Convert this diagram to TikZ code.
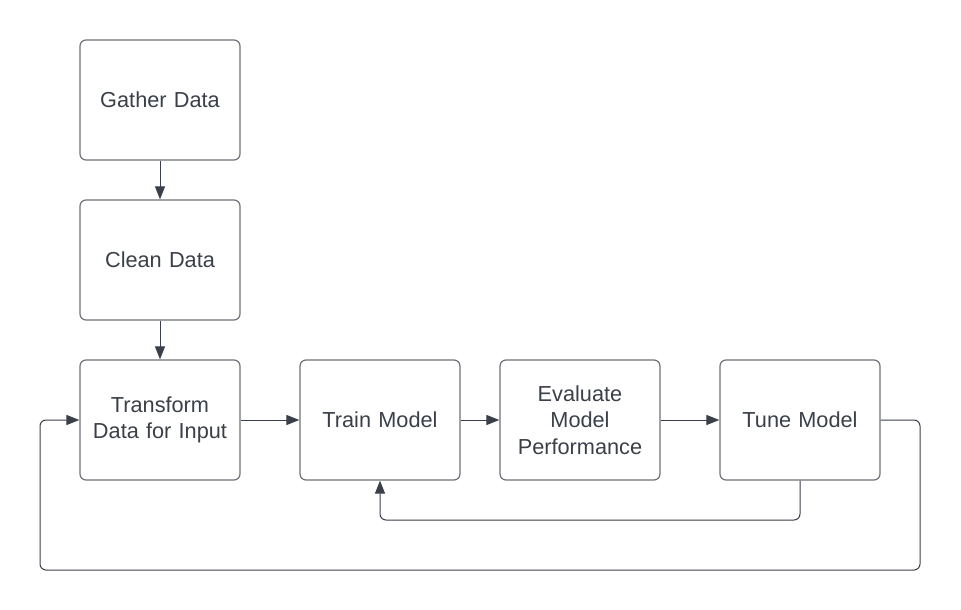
\documentclass[tikz,border=0pt]{standalone}
\usepackage{fontspec}
\setmainfont{Liberation Sans}
\usetikzlibrary{arrows.meta}
\definecolor{boxgray}{HTML}{6E7178}
\definecolor{inkdark}{HTML}{3A3F48}
\begin{document}
\begin{tikzpicture}[x=1bp,y=-1bp]
    \tikzset{
        stage/.style={draw=boxgray, line width=1.2bp, rounded corners=6bp,
            minimum width=160bp, minimum height=120bp, inner sep=0pt,
            text width=154bp, align=center, text=inkdark,
            font=\fontsize{21.8}{26.5}\selectfont},
        flow/.style={draw=inkdark, line width=1bp,
            -{Triangle[length=13bp,width=10bp]}},
        loop/.style={flow, rounded corners=6bp}
    }
    \useasboundingbox (0,0) rectangle (961,610);
    \node [stage] (gather) at (160,100) {Gather Data};
    \node [stage] (clean) at (160,260) {Clean Data};
    \node [stage] (transform) at (160,420) {Transform\\Data for Input};
    \node [stage] (train) at (380,420) {Train Model};
    \node [stage] (evaluate) at (580,420) {Evaluate\\Model\\Performance};
    \node [stage] (tune) at (800,420) {Tune Model};
    \draw [flow] (gather) -- (clean);
    \draw [flow] (clean) -- (transform);
    \draw [flow] (transform) -- (train);
    \draw [flow] (train) -- (evaluate);
    \draw [flow] (evaluate) -- (tune);
    \draw [loop] (tune.south) -- (800,520) -| (train.south);
    \draw [loop] (tune.east) -- (920,420) -- (920,570) -- (40,570) -- (40,420) -- (transform.west);
\end{tikzpicture}
\end{document}
